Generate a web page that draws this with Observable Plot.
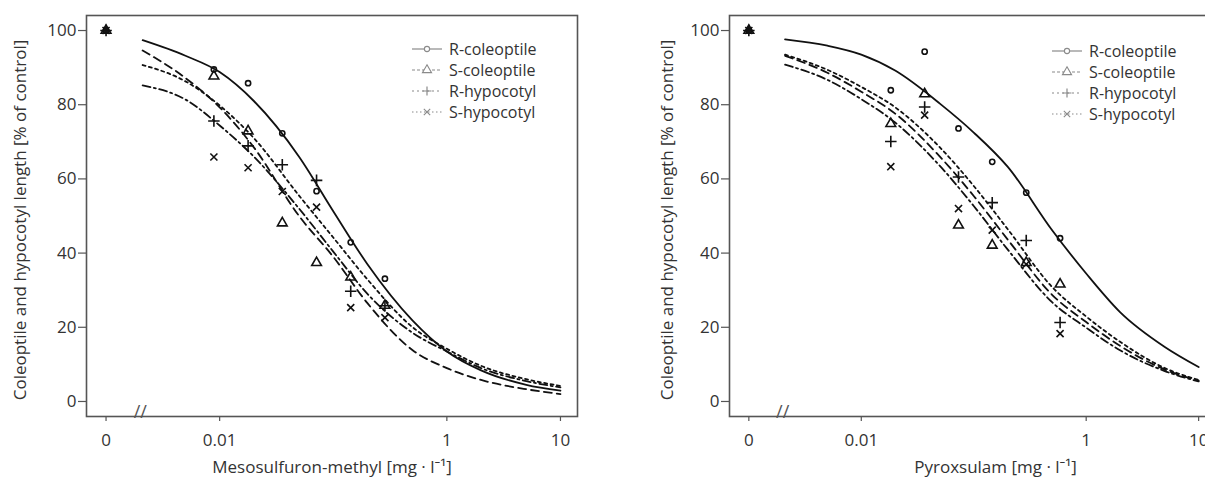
<!DOCTYPE html>
<html><head><meta charset="utf-8">
<script src="https://cdn.jsdelivr.net/npm/d3@7"></script>
<script src="https://cdn.jsdelivr.net/npm/@observablehq/plot@0.6"></script>
<style>
html,body{margin:0;padding:0;background:#fff;}
#wrap{position:relative;width:1205px;height:482px;overflow:hidden;background:#fff;}
#left{position:absolute;left:0;top:0;width:600px;height:482px;}
#right{position:absolute;left:600px;top:0;width:640px;height:482px;}
#wrap svg{max-width:none !important;display:block;}
</style></head><body><div id="wrap"><div id="left"></div><div id="right"></div></div>
<script>
// ---------- data ----------
const seriesNames = ["R-coleoptile", "S-coleoptile", "R-hypocotyl", "S-hypocotyl"];
const yLabel = "Coleoptile and hypocotyl length [% of control]";
const xLabelMeso = "Mesosulfuron-methyl [mg · l⁻¹]";
const xLabelPyro = "Pyroxsulam [mg · l⁻¹]";
const xTickValues = [0.001, 0.01, 1, 10];      // 0.001 = position of the untreated control
const xTickLabels = ["0", "0.01", "1", "10"];
const yTickValues = [0, 20, 40, 60, 80, 100];
const breakPos = 0.002;

// fitted curves
const curveDoses = [0.0021, 0.005, 0.01, 0.02, 0.05, 0.1, 0.2, 0.5, 1, 2, 5, 10];
const mesoCurveRcol = [97.4, 93.2, 88.8, 81, 66, 51.3, 37, 21.8, 13.5, 8.4, 4.5, 2.9];
const mesoCurveScol = [94.6, 87.2, 79.3, 68.5, 50, 39, 26.5, 13.8, 9, 5.8, 3.3, 2];
const mesoCurveRhyp = [90.7, 86.3, 79.8, 71, 55.5, 44.2, 32.9, 20, 14.2, 9.6, 6, 4.2];
const mesoCurveShyp = [85.2, 81.4, 74.4, 66, 52, 40.4, 29, 18.5, 13.5, 9, 5.5, 3.8];

const pyroCurveRcol = [97.6, 95.9, 93.5, 89.2, 80.3, 72.5, 63.3, 46.1, 34.5, 24.1, 14.7, 9.3];
const pyroCurveScol = [93.2, 88.6, 83.5, 77.6, 66, 55.4, 43.7, 28.7, 21.4, 15, 8.6, 5.6];
const pyroCurveRhyp = [93.5, 89.4, 84.8, 79.3, 68.5, 58.1, 46.5, 30.8, 22.9, 16.1, 9, 5.8];
const pyroCurveShyp = [90.8, 86.7, 81.5, 75.2, 63.5, 52.7, 41, 26.7, 19.9, 13.8, 8.2, 5.4];

// observations (first value = untreated control)
const mesoDoses = [0.001, 0.0089, 0.0178, 0.0356, 0.0713, 0.1425, 0.285];
const mesoRcol = [100, 89.5, 85.8, 72.3, 56.7, 42.9, 33.1];
const mesoScol = [100, 87.7, 72.9, 48.1, 37.4, 33.5, 25.9];
const mesoRhyp = [100, 75.6, 68.9, 63.8, 59.6, 29.7, 25.8];
const mesoShyp = [100, 65.9, 63.0, 56.6, 52.4, 25.3, 22.6];

const pyroDoses = [0.001, 0.0183, 0.0366, 0.0732, 0.146, 0.293, 0.586];
const pyroRcol = [100, 83.9, 94.3, 73.6, 64.6, 56.3, 44.0];
const pyroScol = [100, 74.9, 82.9, 47.5, 42.1, 37.4, 31.6];
const pyroRhyp = [100, 70.1, 79.4, 60.5, 53.6, 43.4, 21.3];
const pyroShyp = [100, 63.3, 77.2, 52.0, 46.2, 37.0, 18.3];

// ---------- styles ----------
const symbols = ["circle", "triangle", "plus", "times"];
const symbolR = [2.6, 3.6, 3.8, 3.3];
const dashes = [null, "8,5", "3,3.5", "8,3.5,2,3.5"];
const font = "'Open Sans', 'Noto Sans', sans-serif";
const textCol = "#333";
const frameCol = "#555";

function panel(cfg) {
  const marks = [
    Plot.frame({stroke: frameCol, strokeWidth: 1.6}),
    Plot.axisX(xTickValues, {tickSize: 5, tickPadding: 12, fontSize: 17, fill: textCol, stroke: frameCol,
      strokeWidth: 1.2, label: null, tickFormat: d => xTickLabels[xTickValues.indexOf(d)]}),
    Plot.axisY(yTickValues, {tickSize: 8, tickPadding: 2, fontSize: 17, fill: textCol, stroke: frameCol,
      strokeWidth: 1.2, label: null}),
    Plot.text([breakPos], {x: d => d, frameAnchor: "bottom", text: () => "//", fontSize: 18,
      fill: frameCol, dy: 1}),
    Plot.text([yLabel], {frameAnchor: "left", rotate: -90, dx: cfg.yLabelDx, dy: 4, fontSize: 17,
      fill: textCol, textAnchor: "middle"}),
    Plot.text([cfg.xLabel], {frameAnchor: "bottom", dx: cfg.xLabelDx, dy: 56, fontSize: 17,
      fill: textCol, textAnchor: "middle"})
  ];
  cfg.curves.forEach((vals, i) => {
    marks.push(Plot.line(curveDoses.map((d, j) => ({x: d, y: vals[j]})),
      {x: "x", y: "y", stroke: "#111", strokeWidth: 1.8, strokeDasharray: dashes[i], curve: "monotone-x"}));
  });
  cfg.points.forEach((vals, i) => {
    marks.push(Plot.dot(cfg.doses.map((d, j) => ({x: d, y: vals[j]})),
      {x: "x", y: "y", symbol: symbols[i], r: symbolR[i], stroke: "#111", strokeWidth: 1.6, fill: "none"}));
  });
  const svg = Plot.plot({
    width: cfg.width, height: 482,
    marginTop: 15, marginBottom: 66, marginLeft: cfg.marginLeft, marginRight: cfg.marginRight,
    style: {fontFamily: font, background: "#fff", overflow: "visible", maxWidth: "none"},
    x: {type: "log", domain: [10 ** -3.172, 10 ** 1.15]},
    y: {domain: [-4.05, 104.05]},
    marks
  });
  // legend
  const g = d3.select(svg).append("g").attr("font-family", font).attr("text-anchor", "start");
  const legCol = "#8a8a8a";
  seriesNames.forEach((name, i) => {
    const y = cfg.legY + i * 21;
    const x0 = cfg.legX, x1 = cfg.legX + 30, xm = (x0 + x1) / 2;
    g.append("line").attr("x1", x0).attr("x2", x1).attr("y1", y).attr("y2", y)
      .attr("stroke", legCol).attr("stroke-width", 1.2)
      .attr("stroke-dasharray", i === 0 ? null : (i === 1 ? "3,2" : (i === 2 ? "2,3" : "1.5,2.5")));
    if (i === 0) {
      g.append("circle").attr("cx", xm).attr("cy", y).attr("r", 2.6)
        .attr("fill", "#fff").attr("stroke", legCol).attr("stroke-width", 1.1);
    } else if (i === 1) {
      g.append("path").attr("d", d3.symbol().type(d3.symbolTriangle).size(36)())
        .attr("transform", `translate(${xm},${y})`)
        .attr("fill", "#fff").attr("stroke", legCol).attr("stroke-width", 1.1);
    } else if (i === 2) {
      g.append("path").attr("d", "M-4.5,0H4.5M0,-4.5V4.5").attr("transform", `translate(${xm},${y})`)
        .attr("stroke", legCol).attr("stroke-width", 1.2).attr("fill", "none");
    } else {
      g.append("path").attr("d", "M-3.2,-3.2L3.2,3.2M-3.2,3.2L3.2,-3.2").attr("transform", `translate(${xm},${y})`)
        .attr("stroke", legCol).attr("stroke-width", 1.1).attr("fill", "none");
    }
    g.append("text").attr("x", x1 + 7).attr("y", y).attr("dy", "0.35em")
      .attr("font-size", 16).attr("fill", textCol).text(name);
  });
  return svg;
}

document.getElementById("left").appendChild(panel({
  width: 600, marginLeft: 86, marginRight: 23, yLabelDx: -66, xLabelDx: 0,
  xLabel: xLabelMeso, doses: mesoDoses,
  curves: [mesoCurveRcol, mesoCurveScol, mesoCurveRhyp, mesoCurveShyp],
  points: [mesoRcol, mesoScol, mesoRhyp, mesoShyp],
  legX: 412, legY: 49
}));
document.getElementById("right").appendChild(panel({
  width: 640, marginLeft: 129, marginRight: 25, yLabelDx: -62, xLabelDx: 23,
  xLabel: xLabelPyro, doses: pyroDoses,
  curves: [pyroCurveRcol, pyroCurveScol, pyroCurveRhyp, pyroCurveShyp],
  points: [pyroRcol, pyroScol, pyroRhyp, pyroShyp],
  legX: 452, legY: 51
}));
</script></body></html>
